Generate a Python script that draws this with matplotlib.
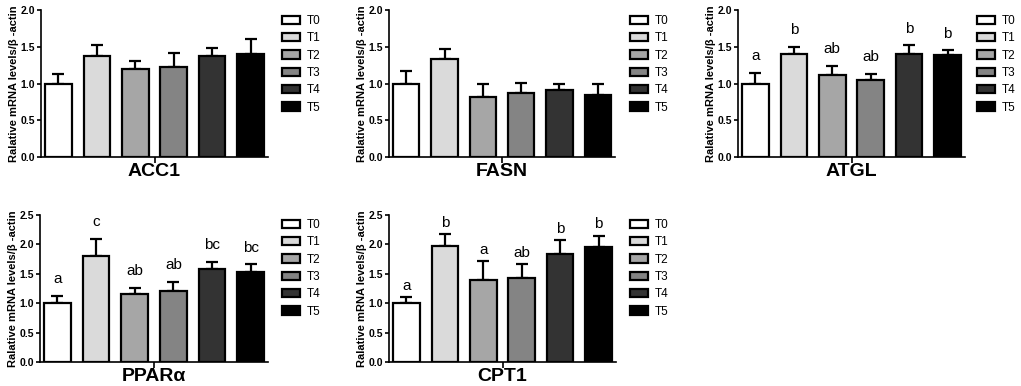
import matplotlib
matplotlib.use('Agg')
import matplotlib.pyplot as plt
from matplotlib.patches import Patch

plt.rcParams['font.family'] = ['Liberation Sans', 'DejaVu Sans']

groups = ['T0', 'T1', 'T2', 'T3', 'T4', 'T5']
genes = ['ACC1', 'FASN', 'ATGL', 'PPARα', 'CPT1']

acc1_mean = [1.00, 1.38, 1.20, 1.22, 1.37, 1.40]
acc1_err = [0.13, 0.14, 0.10, 0.19, 0.11, 0.20]
fasn_mean = [1.00, 1.33, 0.81, 0.87, 0.91, 0.84]
fasn_err = [0.17, 0.14, 0.18, 0.14, 0.08, 0.15]
atgl_mean = [1.00, 1.40, 1.11, 1.05, 1.40, 1.39]
atgl_err = [0.14, 0.10, 0.13, 0.08, 0.12, 0.06]
ppara_mean = [1.00, 1.80, 1.15, 1.20, 1.59, 1.53]
ppara_err = [0.13, 0.29, 0.11, 0.16, 0.11, 0.13]
cpt1_mean = [1.00, 1.98, 1.39, 1.43, 1.84, 1.95]
cpt1_err = [0.11, 0.20, 0.32, 0.24, 0.23, 0.20]

atgl_letters = ['a', 'b', 'ab', 'ab', 'b', 'b']
ppara_letters = ['a', 'c', 'ab', 'ab', 'bc', 'bc']
cpt1_letters = ['a', 'b', 'a', 'ab', 'b', 'b']

colors = ['#ffffff', '#dadada', '#a6a6a6', '#848484', '#333333', '#000000']

W, H = 1021, 386
fig = plt.figure(figsize=(W / 100, H / 100), dpi=100)


def px_axes(x0, x1, ytop, ybot):
    return fig.add_axes([x0 / W, 1 - ybot / H, (x1 - x0) / W, (ybot - ytop) / H])


panels = [
    # name, means, errs, axes box in px, ymax, legend anchor px, letters, letter gap (pt)
    (genes[0], acc1_mean, acc1_err, (41, 268, 10, 157), 2.0, (282, 15), None, 0),
    (genes[1], fasn_mean, fasn_err, (389, 615, 10, 157), 2.0, (630, 15), None, 0),
    (genes[2], atgl_mean, atgl_err, (738, 965, 10, 157), 2.0, (977, 15), atgl_letters, 7),
    (genes[3], ppara_mean, ppara_err, (40, 268, 215, 362), 2.5, (282, 219), ppara_letters, 7),
    (genes[4], cpt1_mean, cpt1_err, (389, 616, 215, 362), 2.5, (630, 219), cpt1_letters, 3),
]

for name, mean, err, box, ymax, leg_xy, letters, gap in panels:
    ax = px_axes(*box)
    x = range(len(groups))
    ax.bar(x, mean, width=0.69, color=colors, edgecolor='black', linewidth=1.6, zorder=2)
    ax.errorbar(x, mean, yerr=[[0] * len(err), err], fmt='none', ecolor='black',
                elinewidth=1.6, capsize=4.5, capthick=1.6, zorder=1)
    ax.set_xlim(-0.45, 5.45)
    ax.set_ylim(0, ymax)
    ax.set_yticks([i * 0.5 for i in range(int(ymax / 0.5) + 1)])
    ax.yaxis.set_major_formatter(matplotlib.ticker.FormatStrFormatter('%.1f'))
    ax.set_xticks([2.5])
    ax.set_xticklabels([name], fontsize=14, fontweight='bold')
    ax.tick_params(axis='x', length=4, width=1.2, pad=0)
    ax.tick_params(axis='y', length=3, width=1.2, labelsize=7.5, pad=1.5)
    for lab in ax.get_yticklabels():
        lab.set_fontweight('bold')
    for s in ['top', 'right']:
        ax.spines[s].set_visible(False)
    for s in ['left', 'bottom']:
        ax.spines[s].set_linewidth(1.2)
    ax.set_ylabel('Ralative mRNA levels/β -actin', fontsize=8, fontweight='bold', labelpad=1)

    if letters:
        for i, l in enumerate(letters):
            ax.annotate(l, (i, mean[i] + err[i]), xytext=(0, gap), textcoords='offset points',
                        ha='center', va='bottom', fontsize=11)

    handles = [Patch(facecolor=c, edgecolor='black', linewidth=1.6) for c in colors]
    fig.legend(handles, groups, loc='upper left',
               bbox_to_anchor=(leg_xy[0] / W, 1 - leg_xy[1] / H),
               frameon=False, fontsize=8.5, borderpad=0, borderaxespad=0,
               handlelength=1.5, handleheight=0.7, handletextpad=0.6, labelspacing=0.45)

fig.savefig('out.png', dpi=100)
